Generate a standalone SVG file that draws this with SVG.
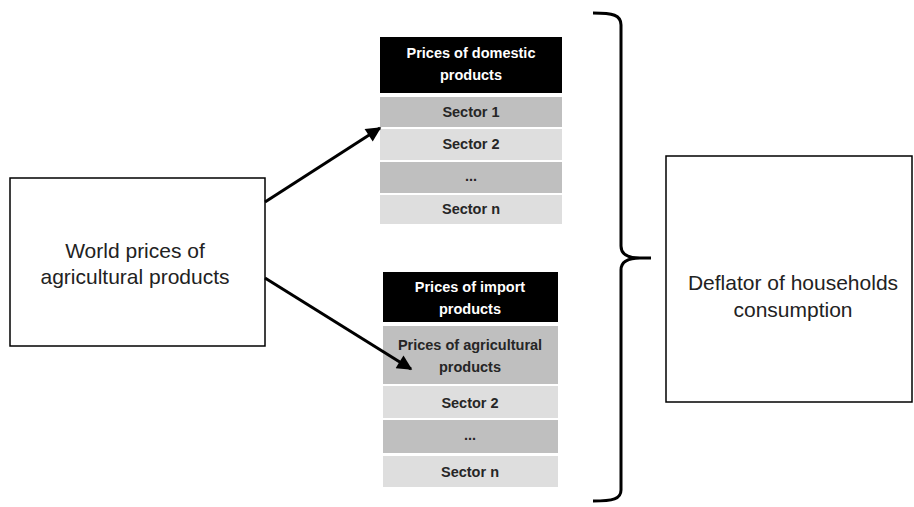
<svg xmlns="http://www.w3.org/2000/svg" width="914" height="507" viewBox="0 0 914 507">
<defs>
<style>
.box{fill:#fff;stroke:#000;stroke-width:1.5}
.hdr{fill:#000}
.dk{fill:#bfbfbf}
.lt{fill:#dedede}
.ht{font-family:"Liberation Sans",Arial,sans-serif;font-size:14.5px;font-weight:bold;fill:#fff;text-anchor:middle}
.st{font-family:"Liberation Sans",Arial,sans-serif;font-size:14.5px;font-weight:bold;fill:#262626;text-anchor:middle}
.bt{font-family:"Liberation Sans",Arial,sans-serif;font-size:21px;fill:#222;text-anchor:middle}
.con{stroke:#000;stroke-width:3;fill:none}
</style>
<marker id="ah" viewBox="0 0 10 10" refX="9" refY="5" markerWidth="6" markerHeight="5" orient="auto" markerUnits="strokeWidth">
<path d="M0,0 L10,5 L0,10 z" fill="#000"/>
</marker>
</defs>
<rect width="914" height="507" fill="#fff"/>

<g id="world">
<rect class="box" x="10" y="178" width="255" height="168"/>
<text class="bt" x="135" y="258">World prices of</text>
<text class="bt" x="135" y="284">agricultural products</text>
</g>

<g id="domestic">
<rect class="hdr" x="380" y="37" width="182" height="56"/>
<text class="ht" x="471" y="58">Prices of domestic</text>
<text class="ht" x="471" y="80">products</text>
<rect class="dk" x="380" y="97" width="182" height="30"/>
<text class="st" x="471" y="117">Sector 1</text>
<rect class="lt" x="380" y="129" width="182" height="31"/>
<text class="st" x="471" y="149">Sector 2</text>
<rect class="dk" x="380" y="162" width="182" height="31"/>
<text class="st" x="471" y="181">...</text>
<rect class="lt" x="380" y="195" width="182" height="29"/>
<text class="st" x="471" y="214">Sector n</text>
</g>

<g id="import">
<rect class="hdr" x="383" y="272" width="175" height="50"/>
<text class="ht" x="470" y="292">Prices of import</text>
<text class="ht" x="470" y="314">products</text>
<rect class="dk" x="383" y="326" width="175" height="58"/>
<text class="st" x="470" y="350">Prices of agricultural</text>
<text class="st" x="470" y="372">products</text>
<rect class="lt" x="383" y="386" width="175" height="32"/>
<text class="st" x="470" y="408">Sector 2</text>
<rect class="dk" x="383" y="420" width="175" height="33"/>
<text class="st" x="470" y="440">...</text>
<rect class="lt" x="383" y="456" width="175" height="31"/>
<text class="st" x="470" y="477">Sector n</text>
</g>

<g id="deflator">
<rect class="box" x="666" y="156" width="246" height="246"/>
<text class="bt" x="793" y="290">Deflator of households</text>
<text class="bt" x="793" y="317">consumption</text>
</g>

<g id="brace">
<path class="con" stroke-width="2.5" d="M593,13 C613,13 621,15 621,25 V246 C621,254 628,258 640,258 H651 M640,258 C628,258 621,262 621,270 V490 C621,499 613,501 593,501"/>
</g>

<g id="connectors">
<line class="con" x1="265" y1="202" x2="380" y2="128" marker-end="url(#ah)"/>
<line class="con" x1="265" y1="278" x2="411" y2="369" marker-end="url(#ah)"/>
</g>
</svg>
